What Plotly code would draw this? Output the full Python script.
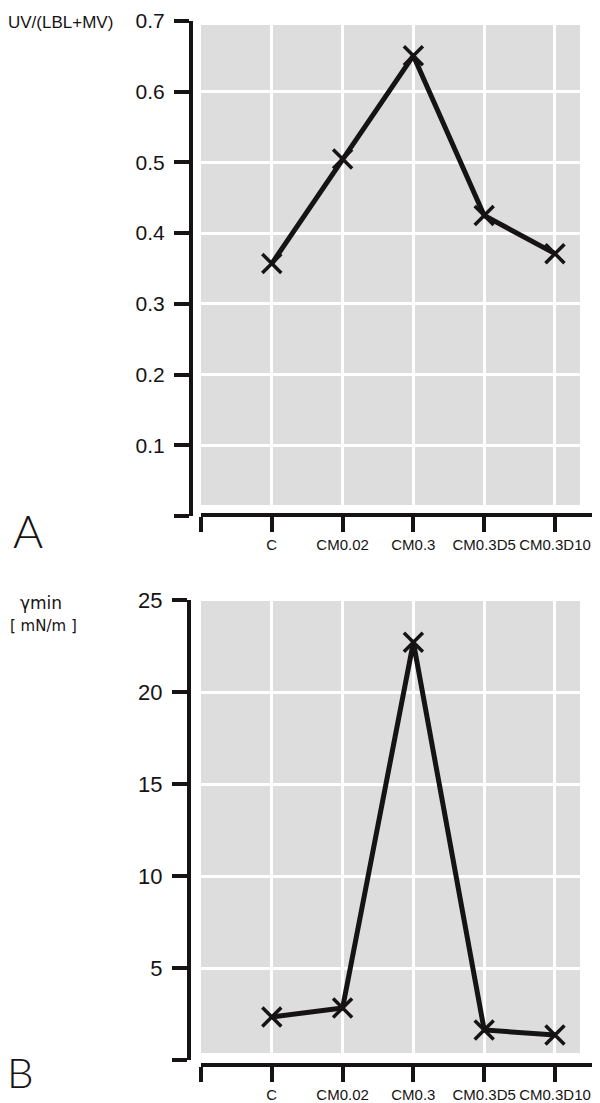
import plotly.graph_objects as go

# ---- data ----
categories = ["C", "CM0.02", "CM0.3", "CM0.3D5", "CM0.3D10"]
uv_ratio = [0.357, 0.505, 0.651, 0.425, 0.371]
gamma_min = [2.34, 2.83, 22.7, 1.63, 1.36]

top_ticks = [0, 0.1, 0.2, 0.3, 0.4, 0.5, 0.6, 0.7]
top_ticktext = ["", "0.1", "0.2", "0.3", "0.4", "0.5", "0.6", "0.7"]
bot_ticks = [0, 5, 10, 15, 20, 25]
bot_ticktext = ["", "5", "10", "15", "20", "25"]

# ---- layout constants ----
# page body has an 8px default margin; compensate so the figure lands at the reference pixels
OFF = 8
W, H = 600 - OFF, 1103 - OFF
INK = "#161314"
GRAY = "#dddddd"
xidx = list(range(len(categories)))
x_tickvals = [-1] + xidx
x_ticktext = [""] + categories
X_RANGE = [-1, 4.636]


def px_x(px):
    return (px - OFF) / W


def py(px):
    return 1 - (px - OFF) / H


fig = go.Figure()

line_style = dict(color=INK, width=5)
marker_style = dict(symbol="x-thin", size=19, color=INK, line=dict(color=INK, width=3.5))

fig.add_trace(go.Scatter(x=xidx, y=uv_ratio, mode="lines+markers", line=line_style,
                         marker=marker_style, xaxis="x", yaxis="y", showlegend=False,
                         cliponaxis=False))
fig.add_trace(go.Scatter(x=xidx, y=gamma_min, mode="lines+markers", line=line_style,
                         marker=marker_style, xaxis="x2", yaxis="y2", showlegend=False,
                         cliponaxis=False))

tickfont_x = dict(family="Liberation Sans, Arial", size=15, color=INK)

common_x = dict(range=X_RANGE, tickmode="array", tickvals=x_tickvals, ticktext=x_ticktext,
                showline=True, linecolor=INK, linewidth=4, ticks="outside", ticklen=15,
                tickwidth=4, tickcolor=INK, showgrid=True, gridcolor="white", gridwidth=3,
                zeroline=False, tickfont=tickfont_x, anchor="free",
                domain=[px_x(201), 1.0], fixedrange=True)

common_y = dict(showline=True, linecolor=INK, linewidth=4, ticks="outside", ticklen=15,
                tickwidth=4, tickcolor=INK, showgrid=True, gridcolor="white", gridwidth=3,
                zeroline=False, anchor="free", tickmode="array", fixedrange=True,
                ticklabelstandoff=5)

fig.update_layout(
    width=W, height=H,
    margin=dict(l=0, r=0, t=0, b=0, autoexpand=False),
    paper_bgcolor="white", plot_bgcolor="rgba(0,0,0,0)",
    xaxis=dict(**common_x, position=py(515)),
    xaxis2=dict(**common_x, position=py(1065)),
    yaxis=dict(**common_y, range=[0, 0.7], tickvals=top_ticks, ticktext=top_ticktext,
               domain=[py(516), py(21)], position=px_x(191),
               tickfont=dict(family="Liberation Sans, Arial", size=21, color=INK)),
    yaxis2=dict(**common_y, range=[0, 25], tickvals=bot_ticks, ticktext=bot_ticktext,
                domain=[py(1060), py(600)], position=px_x(189),
                tickfont=dict(family="Liberation Sans, Arial", size=22, color=INK)),
    shapes=[
        dict(type="rect", xref="x", yref="y", x0=-1, x1=4.353, y0=0.0156, y1=0.6945,
             fillcolor=GRAY, line=dict(width=0), layer="below"),
        dict(type="rect", xref="x2", yref="y2", x0=-1, x1=4.353, y0=0.38, y1=24.95,
             fillcolor=GRAY, line=dict(width=0), layer="below"),
    ],
    annotations=[
        dict(text="UV/(LBL+MV)", x=px_x(6), y=py(22), xref="paper", yref="paper",
             xanchor="left", yanchor="middle", showarrow=False,
             font=dict(family="Liberation Sans, Arial", size=17, color=INK)),
        dict(text="γmin", x=px_x(41), y=py(603), xref="paper", yref="paper",
             xanchor="center", yanchor="middle", showarrow=False,
             font=dict(family="DejaVu Sans", size=17, color=INK)),
        dict(text="[ mN/m ]", x=px_x(43), y=py(626), xref="paper", yref="paper",
             xanchor="center", yanchor="middle", showarrow=False,
             font=dict(family="DejaVu Sans", size=15, color=INK)),
        dict(text="A", x=px_x(28), y=py(530), xref="paper", yref="paper",
             xanchor="center", yanchor="middle", showarrow=False,
             font=dict(family="Lato", size=46, color=INK, weight=300)),
        dict(text="B", x=px_x(20), y=py(1072), xref="paper", yref="paper",
             xanchor="center", yanchor="middle", showarrow=False,
             font=dict(family="Lato", size=42, color=INK, weight=300)),
    ],
)

fig.write_html("out.html")
